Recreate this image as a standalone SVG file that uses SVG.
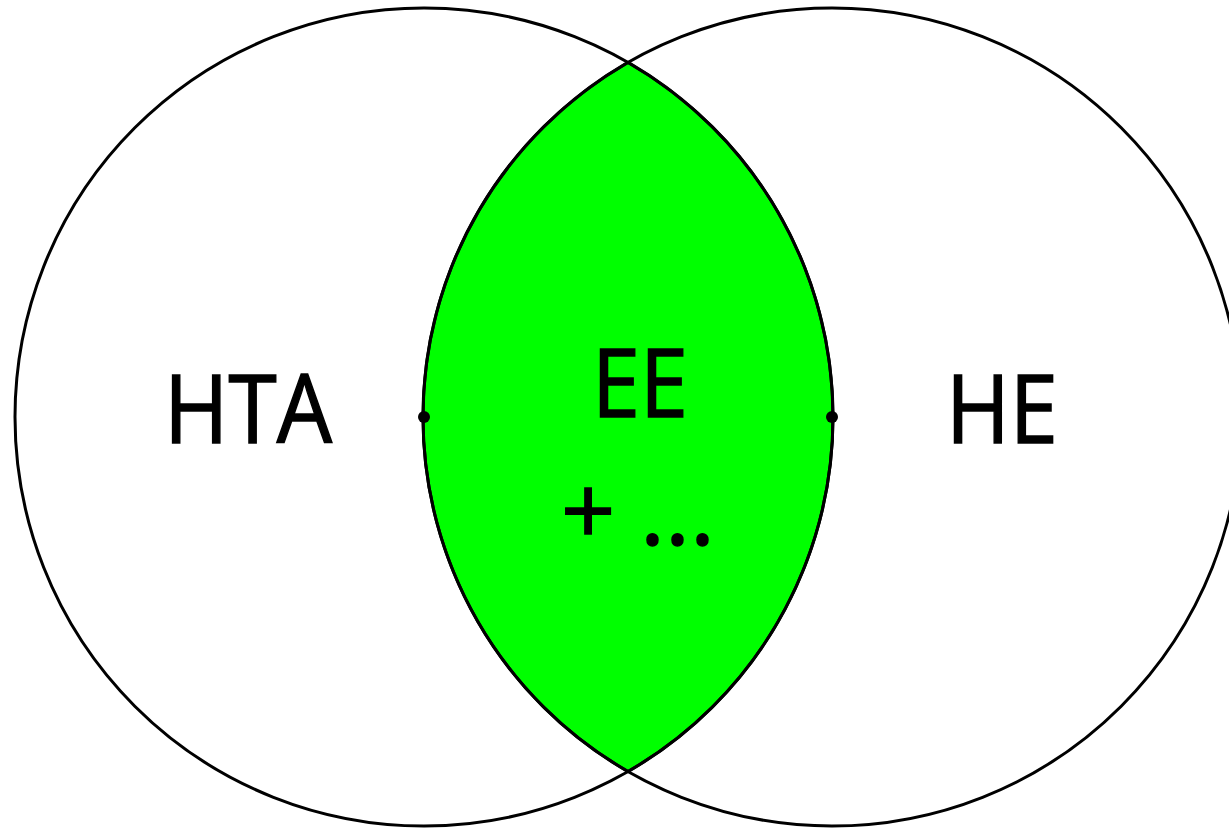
<svg xmlns="http://www.w3.org/2000/svg" width="1229" height="829" viewBox="0 0 1229 829">
  <style>
    .ring { fill: none; stroke: #000; stroke-width: 3; }
    .lens { fill: #00ff00; stroke: #000; stroke-width: 3; }
    .label { font-family: "Open Sans", "Noto Sans", "Liberation Sans", sans-serif; font-size: 95px; fill: #000; stroke: #000; stroke-width: 1.5; }
    .dot { fill: #000; }
  </style>
  <rect width="1229" height="829" fill="#fff"/>
  <!-- overlap region of the two sets -->
  <g id="overlap">
    <path class="lens" d="M 628 62.5 A 409 409 0 0 1 628 771.5 A 409 409 0 0 1 628 62.5 Z"/>
    <text class="label" x="592" y="417" textLength="96" lengthAdjust="spacingAndGlyphs">EE</text>
    <text class="label" x="561" y="545">+ ...</text>
  </g>
  <g id="hta">
    <circle class="ring" cx="424" cy="417" r="409"/>
    <circle class="dot" cx="424" cy="417" r="6"/>
    <text class="label" x="164" y="443" textLength="168" lengthAdjust="spacingAndGlyphs">HTA</text>
  </g>
  <g id="he">
    <circle class="ring" cx="832" cy="417" r="409"/>
    <circle class="dot" cx="832" cy="417" r="6"/>
    <text class="label" x="946" y="443" textLength="112" lengthAdjust="spacingAndGlyphs">HE</text>
  </g>
</svg>
